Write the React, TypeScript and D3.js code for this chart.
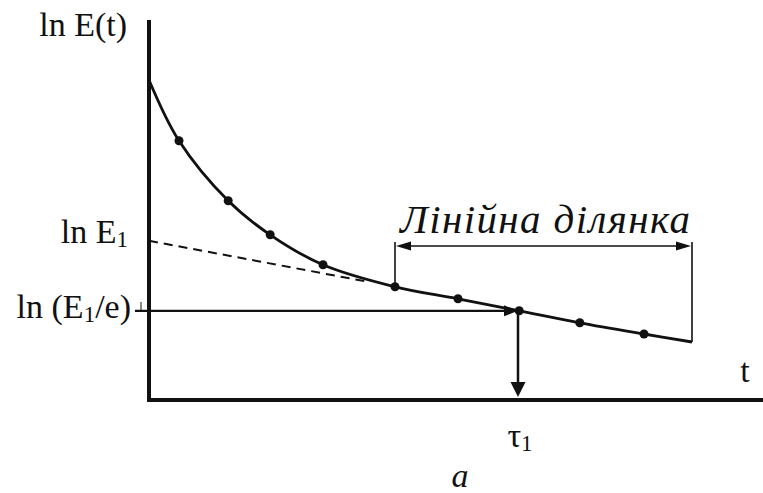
import React from "react";
import * as d3 from "d3";

// Measured points of ln E(t)
const sampleT = [0.5, 1.32, 2.02, 2.9, 4.1, 5.15, 6.17, 7.18, 8.25];
const sampleLnE = [6.48, 4.98, 4.13, 3.38, 2.83, 2.53, 2.23, 1.93, 1.65];
// Curve start (on the ordinate) and end of the linear part
const curveStart = { t: 0, v: 8.0 };
const curveEnd = { t: 9.05, v: 1.45 };
// Extrapolation of the linear part back to t = 0
const extrapT = [0, 3.6];
const extrapLnE = [3.98, 2.97];
// Characteristic levels
const lnE1 = 3.98;
const lnE1e = 2.23;
const tau1 = 6.15;
// Linear section bracket
const linStartT = 4.1;
const linEndT = 9.05;
const bracketTop = 3.95;
const bracketLevel = 3.85;

const W = 763;
const H = 493;

export default function App() {
  const x = d3.scaleLinear().domain([0, 10]).range([149, 749]);
  const y = d3.scaleLinear().domain([0, 9.5]).range([400, 20]);

  const pts: [number, number][] = [
    [curveStart.t, curveStart.v],
    ...sampleT.map((t, i) => [t, sampleLnE[i]] as [number, number]),
    [curveEnd.t, curveEnd.v],
  ];
  const line = d3
    .line<[number, number]>()
    .x((d) => x(d[0]))
    .y((d) => y(d[1]))
    .curve(d3.curveCatmullRom.alpha(0.5));

  const extrap = d3
    .line<number>()
    .x((d) => x(extrapT[d]))
    .y((d) => y(extrapLnE[d]));

  const serif = { fontFamily: '"Liberation Serif"' };

  // arrowhead polygon pointing in direction (dx, dy) with tip at (tx, ty)
  const head = (tx: number, ty: number, dx: number, dy: number, len: number, hw: number) => {
    const px = -dy, py = dx;
    const bx = tx - dx * len, by = ty - dy * len;
    return `${tx},${ty} ${bx + px * hw},${by + py * hw} ${bx - px * hw},${by - py * hw}`;
  };

  const yE1 = y(lnE1);
  const yE1e = y(lnE1e);
  const xTau = x(tau1);
  const xL = x(linStartT);
  const xR = x(linEndT);
  const yB = y(bracketLevel);

  return (
    <svg
      width={W}
      height={H}
      style={{ position: "absolute", left: 0, top: 0, background: "#fff" }}
    >
      <rect width={W} height={H} fill="#fff" />
      {/* axes */}
      <line x1={x(0)} y1={20} x2={x(0)} y2={402} stroke="#111" strokeWidth={4} />
      <line x1={x(0) - 2} y1={y(0)} x2={W} y2={y(0)} stroke="#111" strokeWidth={4} />

      {/* extrapolated linear part */}
      <path d={extrap([0, 1]) || ""} fill="none" stroke="#111" strokeWidth={2} strokeDasharray="9,6" />

      {/* ln E(t) curve */}
      <path d={line(pts) || ""} fill="none" stroke="#111" strokeWidth={2.8} />
      {sampleT.map((t, i) => (
        <circle key={i} cx={x(t)} cy={y(sampleLnE[i])} r={4.5} fill="#111" />
      ))}

      {/* ln(E1/e) horizontal arrow */}
      <line x1={135} y1={yE1e} x2={xTau - 12} y2={yE1e} stroke="#111" strokeWidth={2.2} />
      <polygon points={head(xTau, yE1e, 1, 0, 14, 5.5)} fill="#111" />
      <line x1={141} y1={302} x2={141} y2={yE1e} stroke="#111" strokeWidth={1} />

      {/* tau1 vertical arrow */}
      <line x1={xTau} y1={yE1e} x2={xTau} y2={y(0) - 14} stroke="#111" strokeWidth={2.5} />
      <polygon points={head(xTau, y(0) - 3, 0, 1, 15, 7.5)} fill="#111" />

      {/* linear section bracket */}
      <line x1={xL} y1={y(bracketTop)} x2={xL} y2={y(sampleLnE[4])} stroke="#111" strokeWidth={1.6} />
      <line x1={xR} y1={y(bracketTop)} x2={xR} y2={y(curveEnd.v)} stroke="#111" strokeWidth={1.6} />
      <line x1={xL + 10} y1={yB} x2={xR - 10} y2={yB} stroke="#111" strokeWidth={1.6} />
      <polygon points={head(xL + 1, yB, -1, 0, 15, 4.5)} fill="#111" />
      <polygon points={head(xR - 1, yB, 1, 0, 15, 4.5)} fill="#111" />
      <text
        x={400}
        y={233}
        textAnchor="start"
        fontSize={41}
        fontStyle="italic"
        fill="#111"
        textLength={290}
        lengthAdjust="spacing"
        style={serif}
      >
        Лінійна ділянка
      </text>

      {/* axis labels */}
      <text x={127} y={36} textAnchor="end" fontSize={34} fill="#111" style={serif}>
        ln E(t)
      </text>
      <text x={128} y={yE1 + 2} textAnchor="end" fontSize={34} fill="#111" style={serif}>
        ln E<tspan fontSize={23} dy={4}>1</tspan>
      </text>
      <text x={131} y={yE1e + 7} textAnchor="end" fontSize={34} fill="#111" style={serif}>
        ln (E<tspan fontSize={23} dy={4}>1</tspan>
        <tspan dy={-4}>/e)</tspan>
      </text>
      <text x={745} y={382} textAnchor="middle" fontSize={34} fill="#111" style={serif}>
        t
      </text>
      <text x={xTau + 2} y={447} textAnchor="middle" fontSize={34} fill="#111" style={serif}>
        τ<tspan fontSize={23} dy={4}>1</tspan>
      </text>
      <text x={460} y={487} textAnchor="middle" fontSize={34} fontStyle="italic" fill="#111" style={serif}>
        a
      </text>
    </svg>
  );
}
